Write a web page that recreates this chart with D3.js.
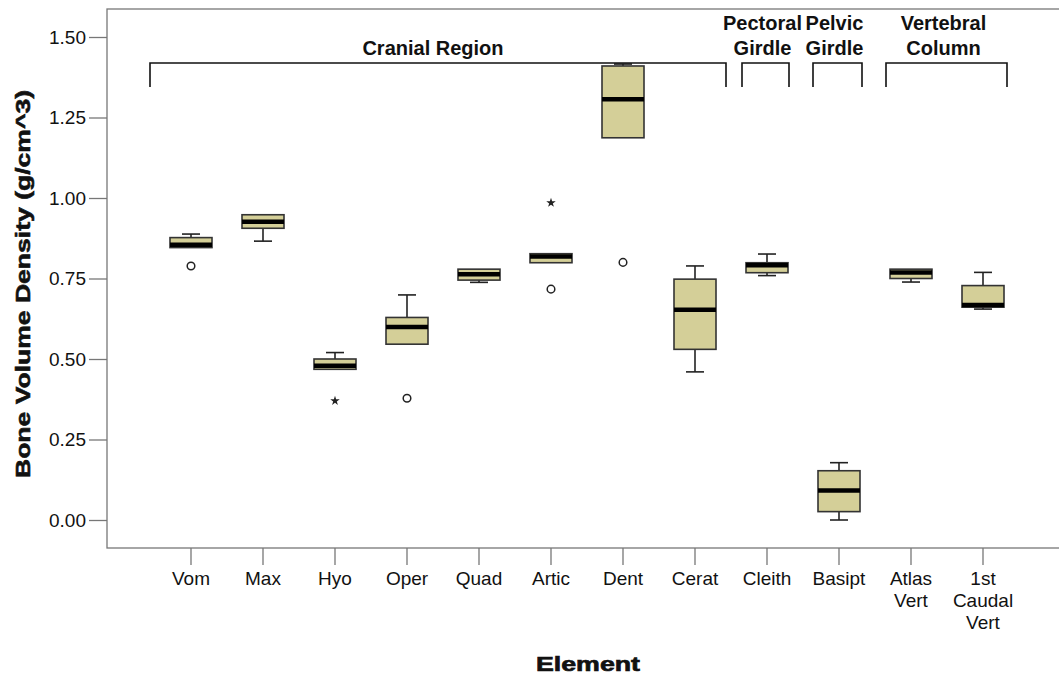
<!DOCTYPE html>
<html>
<head>
<meta charset="utf-8">
<script src="https://cdn.jsdelivr.net/npm/d3@7"></script>
<style>
  body { margin: 0; background: #fff; }
  text { font-family: "Liberation Sans", Arial, sans-serif; fill: #111; }
</style>
</head>
<body>
<svg id="chart" width="1059" height="675"></svg>
<script>
// categories, one box each
const categories = ["Vom", "Max", "Hyo", "Oper", "Quad", "Artic", "Dent", "Cerat",
                    "Cleith", "Basipt", "Atlas\nVert", "1st\nCaudal\nVert"];

// box statistics
const whiskerLow  = [0.846, 0.866, 0.468, 0.546, 0.738, 0.799, 1.187, 0.460, 0.759, 0.000, 0.739, 0.655];
const q1          = [0.846, 0.906, 0.468, 0.546, 0.745, 0.799, 1.187, 0.530, 0.768, 0.026, 0.750, 0.661];
const medians     = [0.855, 0.926, 0.479, 0.599, 0.763, 0.818, 1.307, 0.653, 0.791, 0.092, 0.769, 0.668];
const q3          = [0.877, 0.948, 0.500, 0.629, 0.779, 0.827, 1.410, 0.748, 0.799, 0.153, 0.779, 0.728];
const whiskerHigh = [0.888, 0.948, 0.520, 0.699, 0.779, 0.827, 1.416, 0.789, 0.826, 0.178, 0.779, 0.769];

// outliers: circle = outlier, star = extreme
const outlierCat   = ["Vom", "Hyo", "Oper", "Artic", "Artic", "Dent"];
const outlierValue = [0.789, 0.370, 0.378, 0.985, 0.717, 0.800];
const outlierKind  = ["circle", "star", "circle", "star", "circle", "circle"];

const yTicks = [0, 0.25, 0.5, 0.75, 1.0, 1.25, 1.5];

// region brackets above the boxes
const groupLabels = [["Cranial Region"], ["Pectoral", "Girdle"], ["Pelvic", "Girdle"], ["Vertebral", "Column"]];
const groupFirst  = ["Vom", "Cleith", "Basipt", "Atlas\nVert"];
const groupLast   = ["Cerat", "Cleith", "Basipt", "1st\nCaudal\nVert"];

const svg = d3.select("#chart");

const frame = { left: 107, top: 9, right: 1065, bottom: 548 };

const x = d3.scaleBand().domain(categories).range([155, 1019]).padding(0);
const y = d3.scaleLinear().domain([0, 1.5]).range([520, 37]);
const bw = x.bandwidth();
const cx = d => x(d) + bw / 2;
const boxW = 42, capW = 18;

// frame (right side runs off the picture)
svg.append("rect")
    .attr("x", frame.left).attr("y", frame.top)
    .attr("width", frame.right - frame.left).attr("height", frame.bottom - frame.top)
    .attr("fill", "none").attr("stroke", "#777").attr("stroke-width", 1.3);

// y axis
const yAxis = svg.append("g")
    .attr("transform", `translate(${frame.left},0)`)
    .call(d3.axisLeft(y).tickValues(yTicks).tickFormat(d3.format(".2f")).tickSize(18).tickPadding(3));
yAxis.select(".domain").remove();
yAxis.selectAll(".tick line").attr("stroke", "#777").attr("stroke-width", 1.3);
yAxis.selectAll(".tick text").style("font-size", "19px").attr("fill", "#111");

// x axis
const xAxis = svg.append("g")
    .attr("transform", `translate(0,${frame.bottom})`)
    .call(d3.axisBottom(x).tickSize(17).tickFormat(""));
xAxis.select(".domain").remove();
xAxis.selectAll(".tick line").attr("stroke", "#777").attr("stroke-width", 1.3);
xAxis.selectAll(".tick").append("text")
    .attr("text-anchor", "middle")
    .style("font-size", "19px")
    .attr("fill", "#111")
    .each(function(d) {
        d.split("\n").forEach((line, i) => {
            d3.select(this).append("tspan").attr("x", 0).attr("y", 37 + i * 22).text(line);
        });
    });

// boxes
const boxes = svg.append("g").selectAll("g")
    .data(categories.map((c, i) => ({ c, lo: whiskerLow[i], q1: q1[i], med: medians[i], q3: q3[i], hi: whiskerHigh[i] })))
    .join("g");

boxes.append("line")
    .attr("x1", d => cx(d.c)).attr("x2", d => cx(d.c))
    .attr("y1", d => y(d.hi)).attr("y2", d => y(d.lo))
    .attr("stroke", "#222").attr("stroke-width", 1.6);
boxes.filter(d => d.hi > d.q3).append("line")
    .attr("x1", d => cx(d.c) - capW / 2).attr("x2", d => cx(d.c) + capW / 2)
    .attr("y1", d => y(d.hi)).attr("y2", d => y(d.hi))
    .attr("stroke", "#222").attr("stroke-width", 1.6);
boxes.filter(d => d.lo < d.q1).append("line")
    .attr("x1", d => cx(d.c) - capW / 2).attr("x2", d => cx(d.c) + capW / 2)
    .attr("y1", d => y(d.lo)).attr("y2", d => y(d.lo))
    .attr("stroke", "#222").attr("stroke-width", 1.6);
boxes.append("rect")
    .attr("x", d => cx(d.c) - boxW / 2).attr("width", boxW)
    .attr("y", d => y(d.q3)).attr("height", d => y(d.q1) - y(d.q3))
    .attr("fill", "#d4cf98").attr("stroke", "#333").attr("stroke-width", 1.6);
boxes.append("line")
    .attr("x1", d => cx(d.c) - boxW / 2).attr("x2", d => cx(d.c) + boxW / 2)
    .attr("y1", d => y(d.med)).attr("y2", d => y(d.med))
    .attr("stroke", "#000").attr("stroke-width", 4.5);

// outliers
const outliers = outlierCat.map((c, i) => ({ c, v: outlierValue[i], kind: outlierKind[i] }));
svg.append("g").selectAll("circle")
    .data(outliers.filter(d => d.kind === "circle"))
    .join("circle")
    .attr("cx", d => cx(d.c)).attr("cy", d => y(d.v)).attr("r", 3.8)
    .attr("fill", "#fff").attr("stroke", "#222").attr("stroke-width", 1.5);
svg.append("g").selectAll("path")
    .data(outliers.filter(d => d.kind === "star"))
    .join("path")
    .attr("transform", d => `translate(${cx(d.c)},${y(d.v)})`)
    .attr("d", d3.symbol(d3.symbolStar, 28))
    .attr("fill", "#222");

// region brackets and labels
const bracketPad = [[41, 31], [25, 22], [26, 23], [25, 24]];
const bracketTop = 63, bracketBottom = 87;
groupLabels.forEach((lines, i) => {
    const x0 = cx(groupFirst[i]) - bracketPad[i][0];
    const x1 = cx(groupLast[i]) + bracketPad[i][1];
    svg.append("path")
        .attr("d", `M${x0},${bracketBottom}V${bracketTop}H${x1}V${bracketBottom}`)
        .attr("fill", "none").attr("stroke", "#111").attr("stroke-width", 1.6);
    const mid = (x0 + x1) / 2 - (lines.length === 1 ? 5 : 3);
    lines.forEach((line, j) => {
        svg.append("text")
            .attr("x", mid)
            .attr("y", 55 - (lines.length - 1 - j) * 25)
            .attr("text-anchor", "middle")
            .style("font-size", "20px").style("font-weight", "bold")
            .text(line);
    });
});

// axis titles (heavy, wide face in the original)
svg.append("text")
    .attr("transform", `translate(30,284) rotate(-90)`)
    .attr("text-anchor", "middle")
    .attr("textLength", 388).attr("lengthAdjust", "spacingAndGlyphs")
    .style("font-size", "21px").style("font-weight", "bold")
    .attr("stroke", "#111").attr("stroke-width", 0.6)
    .text("Bone Volume Density (g/cm^3)");

svg.append("text")
    .attr("x", 588).attr("y", 671)
    .attr("text-anchor", "middle")
    .attr("textLength", 104).attr("lengthAdjust", "spacingAndGlyphs")
    .style("font-size", "21px").style("font-weight", "bold")
    .attr("stroke", "#111").attr("stroke-width", 0.7)
    .text("Element");
</script>
</body>
</html>
